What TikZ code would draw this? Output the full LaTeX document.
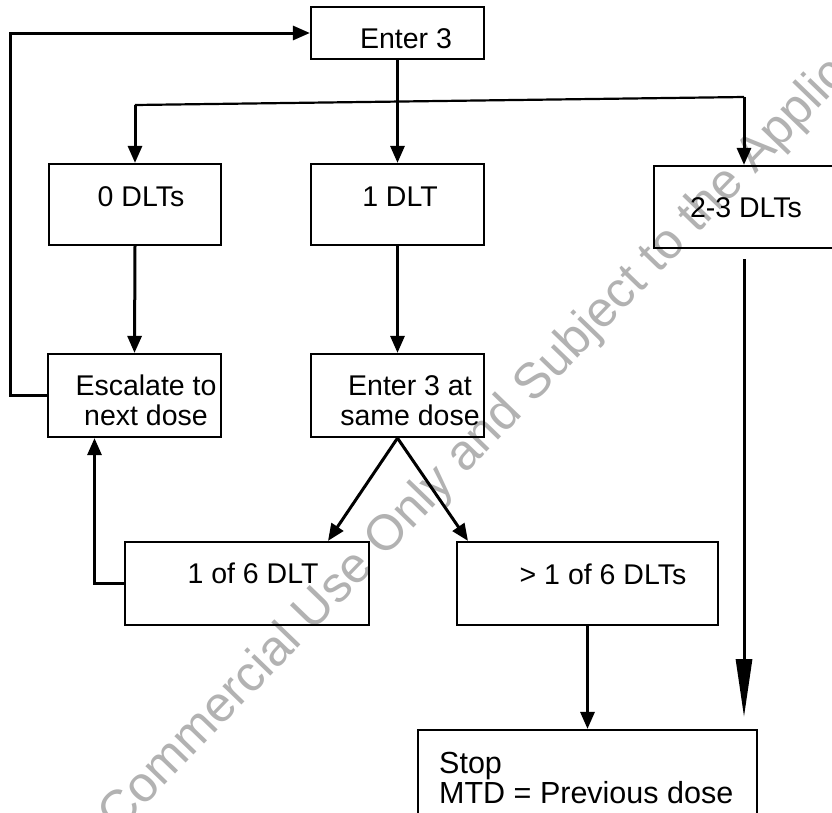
\documentclass[tikz,border=0pt]{standalone}
\usepackage{fontspec}
\setmainfont{Liberation Sans}
\usetikzlibrary{arrows.meta}
\begin{document}
\begin{tikzpicture}[x=1pt,y=-1pt,
  box/.style={draw, line width=2.2pt, inner sep=0pt},
  lbl/.style={font=\fontsize{28.5}{30}\selectfont, inner sep=0pt, anchor=base},
  arr/.style={line width=3pt, -{Triangle[length=17pt,width=14pt]}},
  plain/.style={line width=2.2pt},
  longarr/.style={line width=3pt, -{Triangle[length=58pt,width=16pt]}},
  wm/.style={font=\fontsize{50}{50}\selectfont, text=black!30, inner sep=0pt, anchor=base west, rotate=46}]
\useasboundingbox (0,0) rectangle (832,812);
\clip (0,0) rectangle (832,812);
\fill[white] (0,0) rectangle (832,812);
% watermark
\node[wm] (wmark) at (118,834) {Commercial Use Only and Subject to the Applicable};
% boxes
\node[box, minimum width=173pt, minimum height=52pt] (enter) at (397.5,33) {};
\node[box, minimum width=172pt, minimum height=81pt] (zero) at (135,204.5) {};
\node[box, minimum width=173pt, minimum height=81pt] (one) at (397.5,204.5) {};
\node[box, minimum width=180pt, minimum height=82pt] (two) at (744,207) {};
\node[box, minimum width=173pt, minimum height=83pt] (esc) at (134.5,395.5) {};
\node[box, minimum width=173pt, minimum height=83pt] (same) at (397.5,395.5) {};
\node[box, minimum width=244pt, minimum height=83pt] (oneofsix) at (247,583.5) {};
\node[box, minimum width=261pt, minimum height=83pt] (gt) at (587.5,583.5) {};
\node[box, minimum width=339pt, minimum height=100pt] (stop) at (587.5,780) {};
% labels
\node[lbl] (tenter) at (406,48) {Enter 3};
\node[lbl] (tzero) at (141,206) {0 DLTs};
\node[lbl] (tone) at (400,206) {1 DLT};
\node[lbl] (ttwo) at (746,217) {2-3 DLTs};
\node[lbl, align=center] (tesc) at (146,425) {Escalate to\\next dose};
\node[lbl, align=center] (tsame) at (410,425) {Enter 3 at\\same dose};
\node[lbl] (tofsix) at (253,583) {1 of 6 DLT};
\node[lbl] (tgt) at (603,584) {> 1 of 6 DLTs};
\node[lbl, font=\fontsize{30.5}{30}\selectfont, anchor=base west, align=left] (tstop) at (439,803) {Stop\\MTD = Previous dose};
% connectors
\coordinate (bl) at (135,105);
\coordinate (br) at (744,97);
\coordinate (tipr) at (744,717);
\draw[arr] (esc.west) -- ++(-36,0) |- (enter.west);
\draw[arr] (enter.south) -- (one.north);
\draw[plain] (bl) -- (br);
\draw[arr] (bl) -- (zero.north);
\draw[arr] (br) -- (two.north);
\draw[arr] (zero.south) -- (esc.north);
\draw[arr] (one.south) -- (same.north);
\draw[arr] (same.south) -- ([xshift=81pt]oneofsix.north);
\draw[arr] (same.south) -- ([xshift=-119.5pt]gt.north);
\draw[arr] (oneofsix.west) -| ([xshift=-40pt]esc.south);
\draw[arr] (gt.south) -- (stop.north);
\draw[longarr] ([yshift=-10pt]two.south) -- (tipr);
\end{tikzpicture}
\end{document}
